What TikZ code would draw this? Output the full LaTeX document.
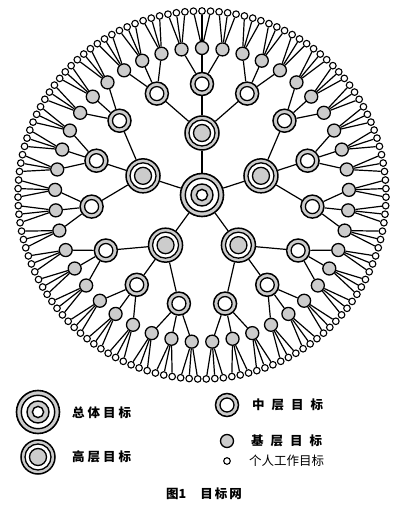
\documentclass[tikz,border=0pt]{standalone}
\usepackage{fontspec}
\usepackage{tikz}
\newfontfamily\cjk{Noto Sans CJK SC}
\newcommand{\leafsize}{6.6pt}
\newcommand{\basesize}{13pt}
\newcommand{\midsize}{23pt}
\newcommand{\highsize}{34pt}
\newcommand{\topsize}{43pt}
\definecolor{ringGray}{RGB}{204,204,204}
\usetikzlibrary{positioning}
\tikzset{
  font=\cjk\fontsize{12.5pt}{14pt}\selectfont,
  link/.style={draw,line width=1.2pt},
  leaf/.style={draw,fill=white,shape=circle,minimum size=\leafsize,inner sep=0,line width=1.1pt},
  basenode/.style={draw,fill=ringGray,shape=circle,minimum size=\basesize,inner sep=0,line width=1.3pt},
  midnode/.style={basenode,minimum size=\midsize,line width=1.5pt,
    path picture={\draw[line width=1.3pt,fill=white] (path picture bounding box.center) circle (7pt);}},
  highnode/.style={basenode,minimum size=\highsize,line width=1.5pt,
    path picture={\foreach \r/\f in {13/white,8.5/ringGray}
      \draw[line width=1.3pt,fill=\f] (path picture bounding box.center) circle (\r pt);}},
  topnode/.style={basenode,minimum size=\topsize,line width=1.6pt,
    path picture={\foreach \r/\f in {16.7/white,11/ringGray,5.6/white}
      \draw[line width=1.4pt,fill=\f] (path picture bounding box.center) circle (\r pt);}},
  lgtext/.style={anchor=west,inner sep=0,font=\cjk\bfseries\fontsize{12.5pt}{14pt}\selectfont},
}

\begin{document}
\begin{tikzpicture}[x=1pt,y=1pt]
  \useasboundingbox (-202,195) rectangle (198,-327);
  % the net: 1 -> 5 -> 15 -> 45 -> 135
  \node[topnode] (c) at (0,0) {};
  \foreach \i in {1,...,5} {
    \pgfmathsetmacro\ah{90+72*(\i-1)}
    \node[highnode] (h\i) at (\ah:62) {};
    \draw[link] (c) -- (h\i);
    \foreach \j in {1,2,3} {
      \pgfmathsetmacro\am{\ah+24*(\j-2)}
      \node[midnode] (m\i\j) at (\am:111) {};
      \draw[link] (h\i) -- (m\i\j);
      \foreach \k in {1,2,3} {
        \pgfmathsetmacro\ab{\am+8*(\k-2)}
        \node[basenode] (b\i\j\k) at (\ab:147) {};
        \draw[link] (m\i\j) -- (b\i\j\k);
        \foreach \n in {1,2,3} {
          \pgfmathsetmacro\al{\ab+8/3*(\n-2)}
          \node[leaf] (p\i\j\k\n) at (\al:184) {};
          \draw[link] (b\i\j\k) -- (p\i\j\k\n);
        }
      }
    }
  }
  % legend
  \node[topnode] (lgtop) at (-164,-217) {};
  \node[lgtext] (lgtoptext) at (-130,-218) {总\hspace{3pt}体\hspace{3pt}目\hspace{3pt}标};
  \node[highnode] (lghigh) at (-164,-262) {};
  \node[lgtext] (lghightext) at (-130,-262) {高\hspace{3pt}层\hspace{3pt}目\hspace{3pt}标};
  \node[midnode] (lgmid) at (25,-210) {};
  \node[lgtext] (lgmidtext) at (50,-210) {中\hspace{7pt}层\hspace{7pt}目\hspace{7pt}标};
  \node[basenode] (lgbase) at (25,-246) {};
  \node[lgtext] (lgbasetext) at (49,-246) {基\hspace{7pt}层\hspace{7pt}目\hspace{7pt}标};
  \node[leaf] (lgleaf) at (25,-266) {};
  \node[lgtext,font=\cjk\fontsize{12.5pt}{14pt}\selectfont] (lgleaftext) at (47,-266) {个人工作目标};
  \node (caption) at (2,-299) {\bfseries 图1\hspace{14pt}目\hspace{2pt}标\hspace{2pt}网};
\end{tikzpicture}
\end{document}
